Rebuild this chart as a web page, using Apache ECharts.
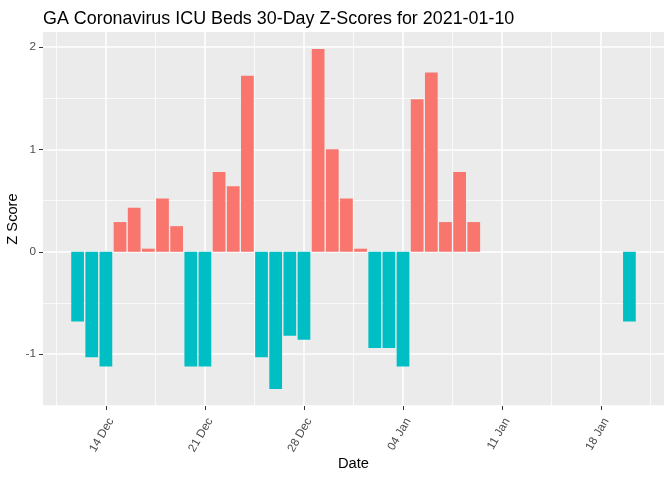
<!DOCTYPE html>
<html><head><meta charset="utf-8">
<script src="https://cdn.jsdelivr.net/npm/echarts@6/dist/echarts.min.js"></script>
<style>html,body{margin:0;padding:0;background:#fff}#c{width:672px;height:480px}</style>
</head><body><div id="c"></div>
<script>
const dates = [
  "2020-12-12","2020-12-13","2020-12-14","2020-12-15","2020-12-16","2020-12-17","2020-12-18","2020-12-19",
  "2020-12-20","2020-12-21","2020-12-22","2020-12-23","2020-12-24","2020-12-25","2020-12-26","2020-12-27",
  "2020-12-28","2020-12-29","2020-12-30","2020-12-31","2021-01-01","2021-01-02","2021-01-03","2021-01-04",
  "2021-01-05","2021-01-06","2021-01-07","2021-01-08","2021-01-09","2021-01-20"
];
const zScores = [
  -0.68,-1.03,-1.12,0.29,0.43,0.03,0.52,0.25,
  -1.12,-1.12,0.78,0.64,1.72,-1.03,-1.34,-0.82,
  -0.86,1.98,1.00,0.52,0.03,-0.94,-0.94,-1.12,
  1.49,1.75,0.29,0.78,0.29,-0.68
];
const xTickDates = ["2020-12-14","2020-12-21","2020-12-28","2021-01-04","2021-01-11","2021-01-18"];
const xTickLabels = ["14 Dec","21 Dec","28 Dec","04 Jan","11 Jan","18 Jan"];
const yTicks = [-1, 0, 1, 2];
const yMinorTicks = [-1.5, -0.5, 0.5, 1.5];

const BASE = Date.parse("2020-12-14T00:00:00Z");
const dayOf = s => (Date.parse(s + "T00:00:00Z") - BASE) / 864e5;

const xs = dates.map(dayOf);
const xMajor = xTickDates.map(dayOf);
const xMinor = xMajor.map(v => v - 3.5).concat([xMajor[xMajor.length - 1] + 3.5]);
const xLo = Math.min(...xs) - 0.45, xHi = Math.max(...xs) + 0.45;
const xPad = (xHi - xLo) * 0.05;
const yLo = Math.min(0, ...zScores), yHi = Math.max(0, ...zScores);
const yPad = (yHi - yLo) * 0.05;

const barData = xs.map((x, i) => [x, zScores[i]]);

const FONT = "Liberation Sans, Arial, sans-serif";
const chart = echarts.init(document.getElementById('c'), null, {renderer: 'canvas'});
chart.setOption({
  animation: false,
  backgroundColor: '#FFFFFF',
  title: {
    text: 'GA Coronavirus ICU Beds 30-Day Z-Scores for 2021-01-10',
    left: 38, top: 5,
    textStyle: {fontFamily: FONT, fontSize: 17.9, fontWeight: 'normal', color: '#000000'}
  },
  grid: {left: 43, right: 8, top: 32, bottom: 74, show: true, backgroundColor: '#EBEBEB', borderWidth: 0,
    containLabel: false, outerBoundsMode: 'none'},
  xAxis: [{
    type: 'value', min: xLo - xPad, max: xHi + xPad,
    name: 'Date', nameLocation: 'middle', nameGap: 50, nameMoveOverlap: false,
    nameTextStyle: {fontFamily: FONT, fontSize: 14.67, color: '#000000'},
    axisLine: {show: false, onZero: false},
    axisTick: {show: true, length: 4, customValues: xMajor, lineStyle: {color: '#333333', width: 1}},
    axisLabel: {customValues: xMajor, rotate: 60, margin: 10, verticalAlign: 'top',
      fontFamily: FONT, fontSize: 11.73, color: '#4D4D4D',
      formatter: v => { const i = xMajor.findIndex(m => Math.abs(m - v) < 1e-6); return i >= 0 ? xTickLabels[i] : ''; }},
    splitLine: {show: true, lineStyle: {color: '#FFFFFF', width: 1.5}}
  }, {
    type: 'value', min: xLo - xPad, max: xHi + xPad, position: 'bottom',
    axisLine: {show: false, onZero: false},
    axisTick: {show: false, customValues: xMinor},
    axisLabel: {show: false, customValues: xMinor},
    splitLine: {show: true, lineStyle: {color: '#FFFFFF', width: 0.75}}
  }],
  yAxis: [{
    type: 'value', min: yLo - yPad, max: yHi + yPad,
    name: 'Z Score', nameLocation: 'middle', nameGap: 23, nameRotate: 90, nameMoveOverlap: false,
    nameTextStyle: {fontFamily: FONT, fontSize: 14.67, color: '#000000'},
    axisLine: {show: false, onZero: false},
    axisTick: {show: true, length: 4, customValues: yTicks, lineStyle: {color: '#333333', width: 1}},
    axisLabel: {customValues: yTicks, margin: 7, fontFamily: FONT, fontSize: 11.73, color: '#4D4D4D'},
    splitLine: {show: true, lineStyle: {color: '#FFFFFF', width: 1.5}}
  }, {
    type: 'value', min: yLo - yPad, max: yHi + yPad, position: 'left',
    axisLine: {show: false, onZero: false},
    axisTick: {show: false, customValues: yMinorTicks},
    axisLabel: {show: false, customValues: yMinorTicks},
    splitLine: {show: true, lineStyle: {color: '#FFFFFF', width: 0.75}}
  }],
  series: [{
    type: 'bar', xAxisIndex: 0, yAxisIndex: 0,
    data: barData, barWidth: '90%',
    itemStyle: {color: p => p.value[1] >= 0 ? '#F8766D' : '#00BFC4'}
  }]
});
</script></body></html>
